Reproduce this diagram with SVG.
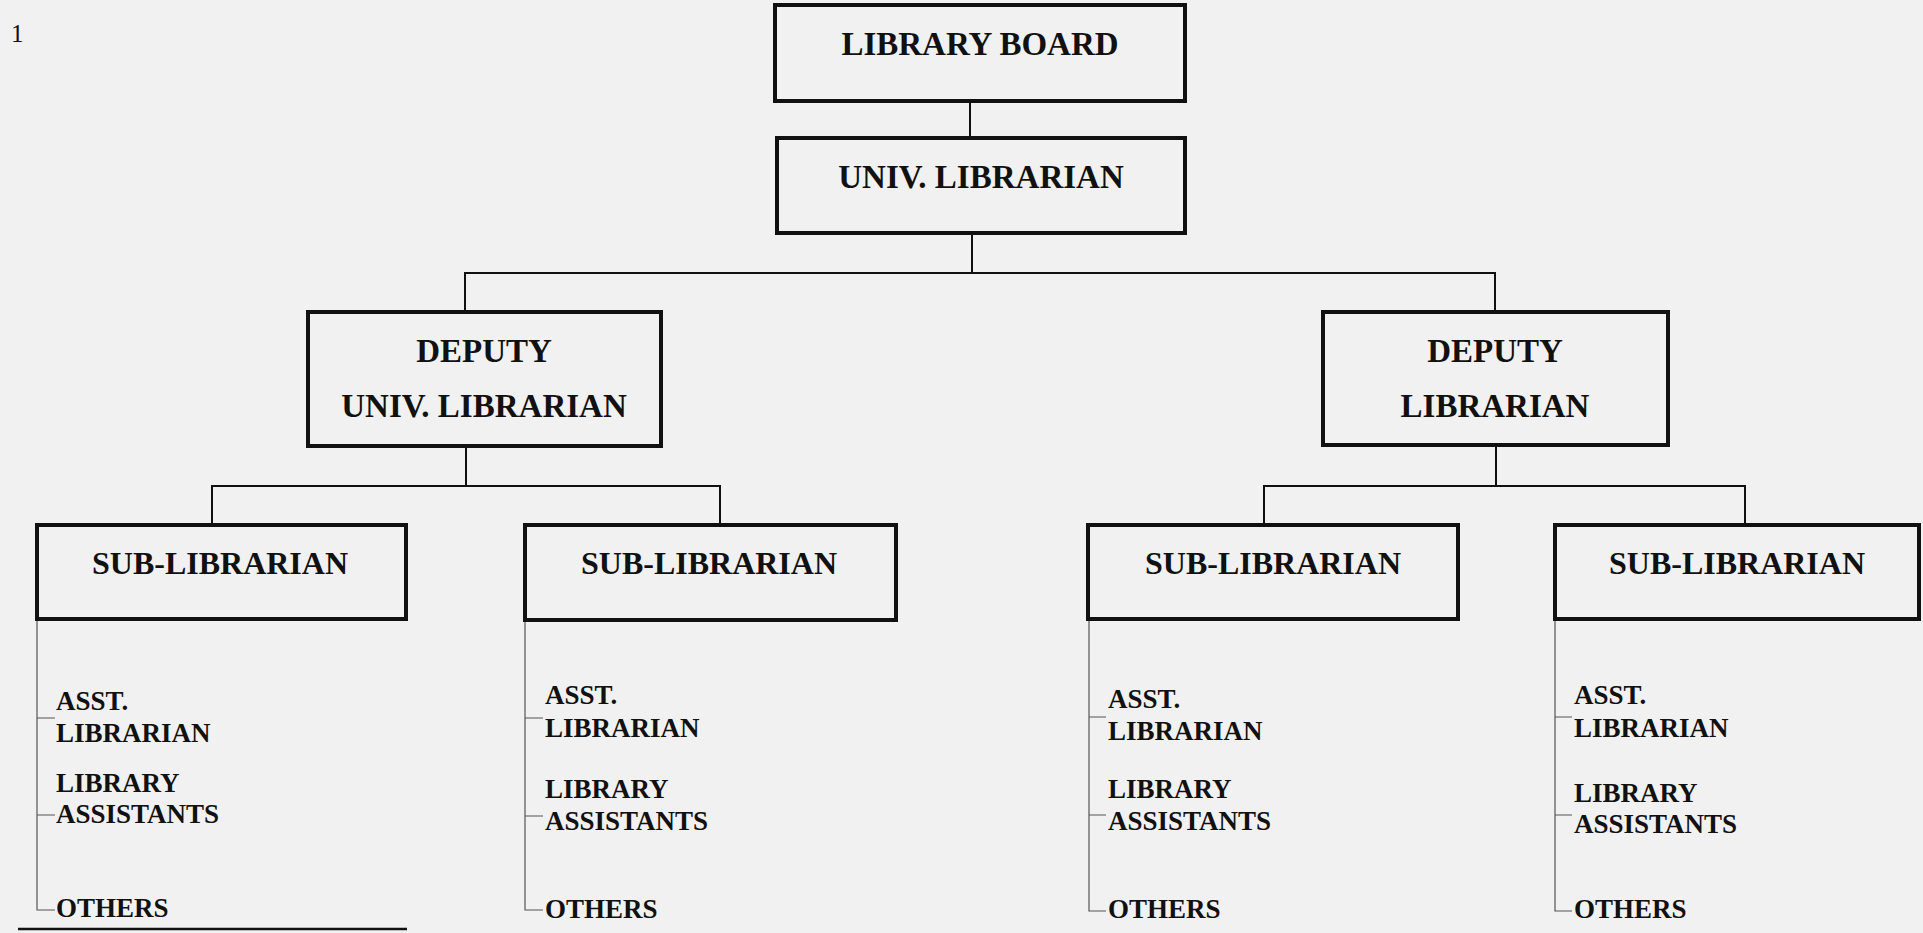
<svg xmlns="http://www.w3.org/2000/svg" width="1923" height="933" viewBox="0 0 1923 933">
<style>
.box{fill:none;stroke:#111;stroke-width:4}
.conn{fill:none;stroke:#111;stroke-width:2}
.list{fill:none;stroke:#555;stroke-width:1.2}
.t{font-family:"Liberation Serif","Times New Roman",serif;font-weight:bold;fill:#111}
.big{font-size:33px;text-anchor:middle}
.sub{font-size:32px;text-anchor:middle}
.item{font-size:27px}
</style>
<rect x="0" y="0" width="1923" height="933" fill="#f1f1f1"/>
<text x="11" y="42" font-family="Liberation Serif, serif" font-size="25" fill="#111">1</text>

<g id="connectors">
<path class="conn" d="M970 103V136"/>
<path class="conn" d="M972 235V273"/>
<path class="conn" d="M465 310V273H1495V310"/>
<path class="conn" d="M466 448V486"/>
<path class="conn" d="M212 523V486H720V523"/>
<path class="conn" d="M1496 447V486"/>
<path class="conn" d="M1264 523V486H1745V523"/>
<path class="list" d="M37 621V910H55M37 718H55M37 815H55"/>
<path class="list" d="M525 622V910H543M525 718H543M525 816H543"/>
<path class="list" d="M1089 621V911H1106M1089 717H1106M1089 815H1106"/>
<path class="list" d="M1555 621V911H1572M1555 717H1572M1555 815H1572"/>
</g>

<g id="library-board">
<rect class="box" x="775" y="5" width="410" height="96"/>
<text class="t big" x="980" y="55">LIBRARY BOARD</text>
</g>
<g id="univ-librarian">
<rect class="box" x="777" y="138" width="408" height="95"/>
<text class="t big" x="981" y="188">UNIV. LIBRARIAN</text>
</g>
<g id="deputy-univ-librarian">
<rect class="box" x="308" y="312" width="353" height="134"/>
<text class="t big" x="484" y="362">DEPUTY</text>
<text class="t big" x="484" y="417">UNIV. LIBRARIAN</text>
</g>
<g id="deputy-librarian">
<rect class="box" x="1323" y="312" width="345" height="133"/>
<text class="t big" x="1495" y="362">DEPUTY</text>
<text class="t big" x="1495" y="417">LIBRARIAN</text>
</g>

<g id="sub-librarian-1">
<rect class="box" x="37" y="525" width="369" height="94"/>
<text class="t sub" x="220" y="574">SUB-LIBRARIAN</text>
<text class="t item" x="56" y="710">ASST.</text>
<text class="t item" x="56" y="742">LIBRARIAN</text>
<text class="t item" x="56" y="792">LIBRARY</text>
<text class="t item" x="56" y="823">ASSISTANTS</text>
<text class="t item" x="56" y="917">OTHERS</text>
</g>
<g id="sub-librarian-2">
<rect class="box" x="525" y="525" width="371" height="95"/>
<text class="t sub" x="709" y="574">SUB-LIBRARIAN</text>
<text class="t item" x="545" y="704">ASST.</text>
<text class="t item" x="545" y="737">LIBRARIAN</text>
<text class="t item" x="545" y="798">LIBRARY</text>
<text class="t item" x="545" y="830">ASSISTANTS</text>
<text class="t item" x="545" y="918">OTHERS</text>
</g>
<g id="sub-librarian-3">
<rect class="box" x="1088" y="525" width="370" height="94"/>
<text class="t sub" x="1273" y="574">SUB-LIBRARIAN</text>
<text class="t item" x="1108" y="708">ASST.</text>
<text class="t item" x="1108" y="740">LIBRARIAN</text>
<text class="t item" x="1108" y="798">LIBRARY</text>
<text class="t item" x="1108" y="830">ASSISTANTS</text>
<text class="t item" x="1108" y="918">OTHERS</text>
</g>
<g id="sub-librarian-4">
<rect class="box" x="1555" y="525" width="364" height="94"/>
<text class="t sub" x="1737" y="574">SUB-LIBRARIAN</text>
<text class="t item" x="1574" y="704">ASST.</text>
<text class="t item" x="1574" y="737">LIBRARIAN</text>
<text class="t item" x="1574" y="802">LIBRARY</text>
<text class="t item" x="1574" y="833">ASSISTANTS</text>
<text class="t item" x="1574" y="918">OTHERS</text>
</g>

<line x1="18" y1="929" x2="407" y2="929" stroke="#111" stroke-width="2.5"/>
</svg>
